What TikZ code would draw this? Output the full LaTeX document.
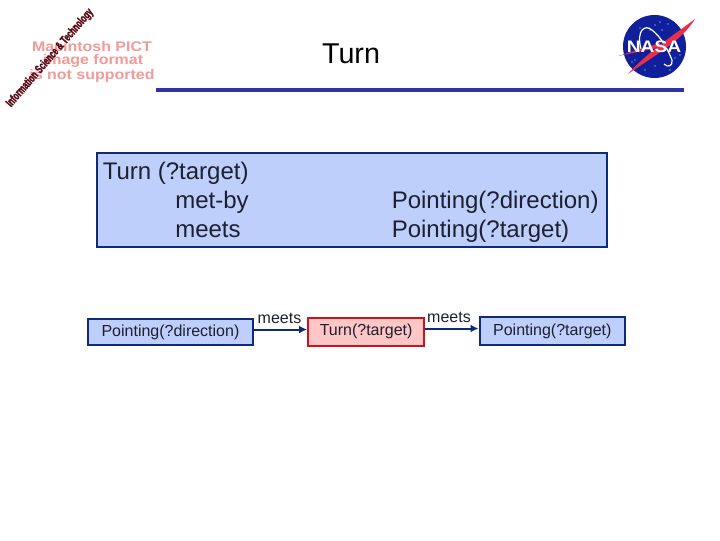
\documentclass[tikz,border=0pt]{standalone}
\usepackage{fontspec}
\setmainfont{Liberation Sans}
\newfontfamily\istfont[FakeBold=2,FakeStretch=0.64]{Liberation Sans Bold}
\usetikzlibrary{arrows.meta}
\definecolor{boxblue}{HTML}{BFCFFB}
\definecolor{edgeblue}{HTML}{0F2A78}
\definecolor{rulecol}{HTML}{3232A8}
\definecolor{boxred}{HTML}{FFC6C6}
\definecolor{edgered}{HTML}{C8141E}
\definecolor{inktxt}{HTML}{1C2030}
\definecolor{picttxt}{HTML}{F09A9A}
\definecolor{nasablue}{HTML}{10209C}
\definecolor{nasared}{HTML}{E8304A}
\definecolor{istred}{HTML}{5A0812}
\tikzset{
  px/.style={x=0.75pt,y=-0.75pt},
  bluebox/.style={draw=edgeblue,fill=boxblue,line width=1.7pt,inner sep=0pt,text=inktxt,font=\fontsize{12}{14}\selectfont},
  redbox/.style={draw=edgered,fill=boxred,line width=1.7pt,inner sep=0pt,text=inktxt,font=\fontsize{12}{14}\selectfont},
  bigtxt/.style={anchor=base west,inner sep=0pt,text=inktxt,font=\fontsize{18}{20}\selectfont},
  linklabel/.style={inner sep=0pt,text=inktxt,font=\fontsize{12}{14}\selectfont},
  link/.style={draw=edgeblue,line width=1.5pt,-{Latex[length=6pt,width=6pt]}},
  picttext/.style={inner sep=0pt,text=picttxt,font=\fontsize{10.5}{12}\bfseries\selectfont}
}
\begin{document}
\begin{tikzpicture}[px]
\useasboundingbox (0,0) rectangle (720,540);
\fill[white] (0,0) rectangle (720,540);
% PICT placeholder
\node[picttext] (p1) at (92,46) {\scalebox{1.14}[1]{Macintosh PICT}};
\node[picttext] (p2) at (93,60.5) {\scalebox{1.14}[1]{image format}};
\node[picttext] (p3) at (92,75.5) {\scalebox{1.14}[1]{is not supported}};
% rotated logotype
\node[inner sep=0pt,text=istred,rotate=49,font=\fontsize{9}{10}\istfont] (ist) at (50,58)
  {Information Science \& Technology};
% title
\node[inner sep=0pt,text=black,font=\fontsize{21.5}{24}\selectfont] (title) at (351,54) {Turn};
\fill[rulecol] (156,88) rectangle (684,92);
% NASA logo
\fill[nasablue] (654.5,46.5) circle (31.5);
\foreach \a/\b in {655/25,660/22,650/30,662/30,668/24,632/62,645/70,655/66,675/58,680/55,670/70,640/28,635/60}
  \fill[white] (\a,\b) circle (0.7);
\draw[white,line width=0.9pt] (641,49) .. controls (636,30) and (645,24) .. (652,30) .. controls (662,38) and (668,50) .. (672,60) .. controls (673,66) and (668,68) .. (664,64);
\fill[nasared] (695,19) .. controls (682,40) and (660,52) .. (628,74) .. controls (648,52) and (672,36) .. (695,19) -- cycle;
\fill[nasared] (618,56) -- (660,43) -- (662,47) -- cycle;
\node[inner sep=0pt,text=white,font=\fontsize{12.5}{14}\bfseries\selectfont] (nasa) at (654,46.5) {\scalebox{1.15}[1]{NASA}};
% big box
\node[draw=edgeblue,fill=boxblue,line width=1.7pt,minimum width=382.5pt,minimum height=71pt,inner sep=0pt,anchor=north west] (big) at (95.5,151.5) {};
\node[bigtxt] (b1) at (102.5,179) {Turn (?target)};
\node[bigtxt] (b2) at (175,208) {met-by};
\node[bigtxt] (b3) at (175,237) {meets};
\node[bigtxt] (b4) at (391.5,208) {Pointing(?direction)};
\node[bigtxt] (b5) at (391.5,237) {Pointing(?target)};
% chain
\node[bluebox,minimum width=123.5pt,minimum height=20pt,anchor=north west] (pd) at (87,317.5) {\raisebox{-0.75pt}{Pointing(?direction)}};
\node[redbox,minimum width=87pt,minimum height=21pt,anchor=north west] (tt) at (307,316.5) {\raisebox{-0.75pt}{Turn(?target)}};
\node[bluebox,minimum width=109pt,minimum height=21.5pt,anchor=north west] (pt) at (478.5,315.5) {\raisebox{0.5pt}{Pointing(?target)}};
\coordinate (l1) at (0,329.5);
\coordinate (l2) at (0,328.5);
\draw[link] (pd.east |- l1) -- (tt.west |- l1);
\draw[link] (tt.east |- l2) -- (pt.west |- l2);
\node[linklabel] (m1) at (279.5,318.5) {meets};
\node[linklabel] (m2) at (449,317) {meets};
\end{tikzpicture}
\end{document}
